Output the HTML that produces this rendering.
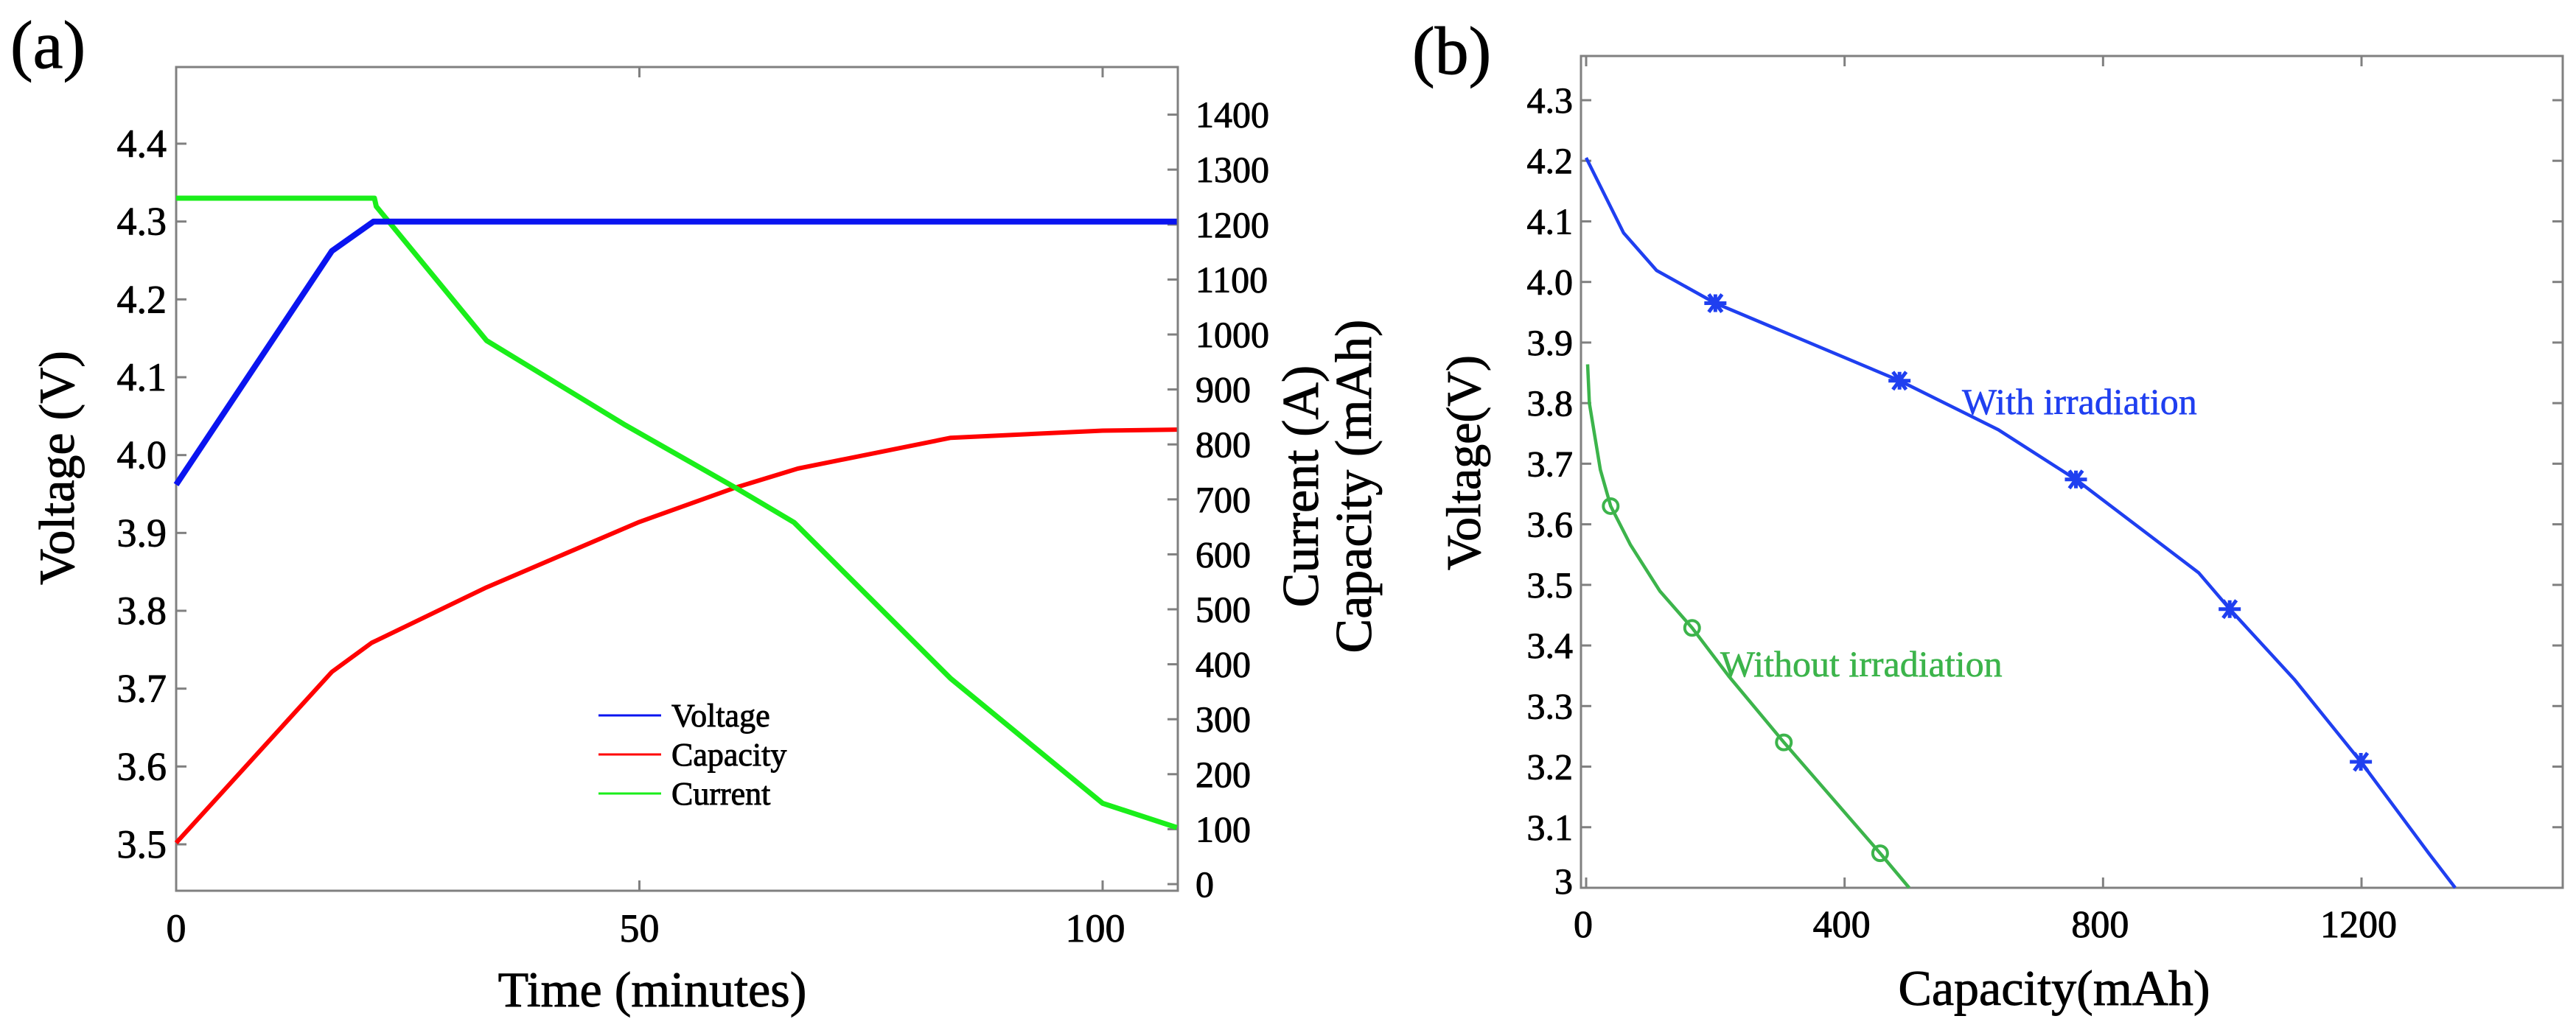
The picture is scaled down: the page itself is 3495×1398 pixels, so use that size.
<!DOCTYPE html>
<html><head><meta charset="utf-8"><style>
html,body{margin:0;padding:0;background:#fff}
svg{display:block}
text{font-family:"Liberation Serif",serif;fill:#000;stroke:#000;stroke-width:0.9px}
</style></head><body>
<svg id="fig" width="3495" height="1398" viewBox="0 0 3495 1398" xmlns="http://www.w3.org/2000/svg">
<g id="pa"></g>
<g id="pb"></g>
</svg>
<script>
// ---- Panel (a) data ----
const aTimeV = [0, 16.8, 21.3, 108];
const aVoltage = [3.962, 4.262, 4.3, 4.3];
const aTimeC = [0, 16.8, 21.1, 33.5, 50, 60.1, 67.1, 83.6, 100, 108];
const aCapacity = [75, 386, 439, 540, 659, 720, 756, 812, 825, 827];
const aTimeI = [0, 21.4, 21.6, 33.5, 48.5, 60.5, 66.7, 83.6, 100, 108];
const aCurrent = [1248, 1248, 1233, 989, 835, 720, 658, 374, 147, 103];
const aLeftTicks = [3.5, 3.6, 3.7, 3.8, 3.9, 4.0, 4.1, 4.2, 4.3, 4.4];
const aLeftLabels = ["3.5","3.6","3.7","3.8","3.9","4.0","4.1","4.2","4.3","4.4"];
const aRightTicks = [0,100,200,300,400,500,600,700,800,900,1000,1100,1200,1300,1400];
const aXTicks = [0, 50, 100];
const aLegend = ["Voltage", "Capacity", "Current"];
// ---- Panel (b) data ----
const bCapWith = [0, 58, 109, 200, 485, 638, 758, 948, 996, 1096, 1199, 1304, 1345];
const bVoltWith = [4.205, 4.081, 4.019, 3.965, 3.837, 3.756, 3.674, 3.52, 3.46, 3.344, 3.208, 3.057, 3.0];
const bStarCap = [200, 485, 758, 996, 1199];
const bStarVolt = [3.965, 3.837, 3.674, 3.46, 3.208];
const bCapWithout = [2.3, 5, 12.5, 22, 38, 68.7, 114, 164, 221, 306, 455, 500];
const bVoltWithout = [3.864, 3.8, 3.751, 3.69, 3.63, 3.566, 3.49, 3.429, 3.349, 3.24, 3.057, 3.0];
const bCircCap = [38, 164, 306, 455];
const bCircVolt = [3.63, 3.429, 3.24, 3.057];
const bYTicks = [3.0,3.1,3.2,3.3,3.4,3.5,3.6,3.7,3.8,3.9,4.0,4.1,4.2,4.3];
const bYLabels = ["3","3.1","3.2","3.3","3.4","3.5","3.6","3.7","3.8","3.9","4.0","4.1","4.2","4.3"];
const bXTicks = [0, 400, 800, 1200];

const NS = "http://www.w3.org/2000/svg";
function mk(parent, tag, attrs, txt) {
  const e = document.createElementNS(NS, tag);
  for (const k in attrs) e.setAttribute(k, attrs[k]);
  if (txt !== undefined) e.textContent = txt;
  parent.appendChild(e);
  return e;
}
function lin(d0, d1, p0, p1) { return v => p0 + (v - d0) * (p1 - p0) / (d1 - d0); }
function pathD(xs, ys, fx, fy) { return xs.map((x, i) => (i ? "L" : "M") + fx(x).toFixed(1) + "," + fy(ys[i]).toFixed(1)).join(""); }

// ---------- Panel A ----------
const pa = document.getElementById("pa");
const A = {l: 239, r: 1598, t: 91, b: 1209};
const ax = lin(0, 100, 239, 1496);
const ayL = lin(3.5, 4.4, 1146, 195);
const ayR = lin(0, 1000, 1200, 454);
let e;
e = mk(pa, "text", {x: 14, y: 92, "font-size": 92}, "(a)");


e = mk(pa, "rect", {x: A.l, y: A.t, width: A.r - A.l, height: A.b - A.t, fill: "none", stroke: "#808080", "stroke-width": 3});


aLeftTicks.forEach((v, i) => {
  const y = ayL(v);
  const t = mk(pa, "line", {x1: A.l, x2: A.l + 14, y1: y, y2: y, stroke: "#808080", "stroke-width": 3});
  
  
  const l = mk(pa, "text", {x: 226, y: y + 18, "font-size": 54, "text-anchor": "end"}, aLeftLabels[i]);
  
  
});
aRightTicks.forEach(v => {
  const y = ayR(v);
  const t = mk(pa, "line", {x1: A.r - 14, x2: A.r, y1: y, y2: y, stroke: "#808080", "stroke-width": 3});
  
  
  const l = mk(pa, "text", {x: 1622, y: y + 17, "font-size": 50}, String(v));
  
  
});
aXTicks.forEach(v => {
  const x = ax(v);
  const t1 = mk(pa, "line", {x1: x, x2: x, y1: A.b, y2: A.b - 14, stroke: "#808080", "stroke-width": 3});
  
  
  const t2 = mk(pa, "line", {x1: x, x2: x, y1: A.t, y2: A.t + 14, stroke: "#808080", "stroke-width": 3});
  
  
  const l = mk(pa, "text", {x: x - (v === 100 ? 10 : 0), y: 1278, "font-size": 54, "text-anchor": "middle"}, String(v));
  
  
});
e = mk(pa, "text", {x: 885, y: 1366, "font-size": 68, "text-anchor": "middle"}, "Time (minutes)");


e = mk(pa, "text", {x: 0, y: 0, "font-size": 68, "text-anchor": "middle", transform: "translate(100,635) rotate(-90)"}, "Voltage (V)");


e = mk(pa, "text", {x: 0, y: 0, "font-size": 70, "text-anchor": "middle", transform: "translate(1788,660) rotate(-90)"}, "Current (A)");


e = mk(pa, "text", {x: 0, y: 0, "font-size": 70, "text-anchor": "middle", transform: "translate(1860,660) rotate(-90)"}, "Capacity (mAh)");



e = mk(pa, "path", {d: pathD(aTimeC, aCapacity, ax, ayR), fill: "none", stroke: "#ff0000", "stroke-width": 6, "stroke-linejoin": "round"});


e = mk(pa, "path", {d: pathD(aTimeI, aCurrent, ax, ayR), fill: "none", stroke: "#1aee1a", "stroke-width": 7, "stroke-linejoin": "round"});


e = mk(pa, "path", {d: pathD(aTimeV, aVoltage, ax, ayL), fill: "none", stroke: "#0a14f0", "stroke-width": 8, "stroke-linejoin": "round"});



const legCols = ["#0a14f0", "#ff0000", "#1aee1a"];
aLegend.forEach((n, i) => {
  const y = 971 + i * 53;
  const l = mk(pa, "line", {x1: 812, x2: 897, y1: y, y2: y, stroke: legCols[i], "stroke-width": 3});
  
  
  const t = mk(pa, "text", {x: 911, y: y + 15, "font-size": 44}, n);
  
  
});

// ---------- Panel B ----------
const pb = document.getElementById("pb");
const B = {l: 2145, r: 3477, t: 76, b: 1205};
const bx = lin(0, 1200, 2152, 3204);
const by = lin(3.0, 4.3, 1205, 136);
e = mk(pb, "text", {x: 1916, y: 100, "font-size": 92}, "(b)");


e = mk(pb, "rect", {x: B.l, y: B.t, width: B.r - B.l, height: B.b - B.t, fill: "none", stroke: "#808080", "stroke-width": 3});


bYTicks.forEach((v, i) => {
  const y = by(v);
  const t = mk(pb, "line", {x1: B.l, x2: B.l + 14, y1: y, y2: y, stroke: "#808080", "stroke-width": 3});
  
  
  const t2 = mk(pb, "line", {x1: B.r - 14, x2: B.r, y1: y, y2: y, stroke: "#808080", "stroke-width": 3});
  
  
  const l = mk(pb, "text", {x: 2134, y: y + (i === 0 ? 8 : 17), "font-size": 50, "text-anchor": "end"}, bYLabels[i]);
  
  
});
bXTicks.forEach(v => {
  const x = bx(v);
  const t1 = mk(pb, "line", {x1: x, x2: x, y1: B.b, y2: B.b - 14, stroke: "#808080", "stroke-width": 3});
  
  
  const t2 = mk(pb, "line", {x1: x, x2: x, y1: B.t, y2: B.t + 14, stroke: "#808080", "stroke-width": 3});
  
  
  const l = mk(pb, "text", {x: x - 4, y: 1272, "font-size": 52, "text-anchor": "middle"}, String(v));
  
  
});
e = mk(pb, "text", {x: 2787, y: 1364, "font-size": 68, "text-anchor": "middle"}, "Capacity(mAh)");


e = mk(pb, "text", {x: 0, y: 0, "font-size": 66, "text-anchor": "middle", transform: "translate(2008,628) rotate(-90)"}, "Voltage(V)");



const blue = "#1f3ff0", green = "#3cb44b";
e = mk(pb, "path", {d: pathD(bCapWith, bVoltWith, bx, by), fill: "none", stroke: blue, "stroke-width": 4.5, "stroke-linejoin": "round"});


e = mk(pb, "path", {d: pathD(bCapWithout, bVoltWithout, bx, by), fill: "none", stroke: green, "stroke-width": 4.5, "stroke-linejoin": "round"});


bStarCap.forEach((c, i) => {
  const x = bx(c), y = by(bStarVolt[i]), s = 15;
  const g = mk(pb, "path", {d: `M${x-s},${y}H${x+s}M${x-s*0.6},${y-s*0.8}L${x+s*0.6},${y+s*0.8}M${x-s*0.6},${y+s*0.8}L${x+s*0.6},${y-s*0.8}M${x},${y-s*0.8}V${y+s*0.8}`, stroke: blue, "stroke-width": 5, fill: "none"});
  
  
});
bCircCap.forEach((c, i) => {
  const m = mk(pb, "circle", {cx: bx(c), cy: by(bCircVolt[i]), r: 10, fill: "none", stroke: green, "stroke-width": 4});
  
  
});
e = mk(pb, "text", {x: 2662, y: 562, "font-size": 50, style: "fill:" + blue + ";stroke:" + blue + ";stroke-width:0.6px"}, "With irradiation");


e = mk(pb, "text", {x: 2334, y: 918, "font-size": 50, style: "fill:" + green + ";stroke:" + green + ";stroke-width:0.6px"}, "Without irradiation");


</script>
</body></html>
